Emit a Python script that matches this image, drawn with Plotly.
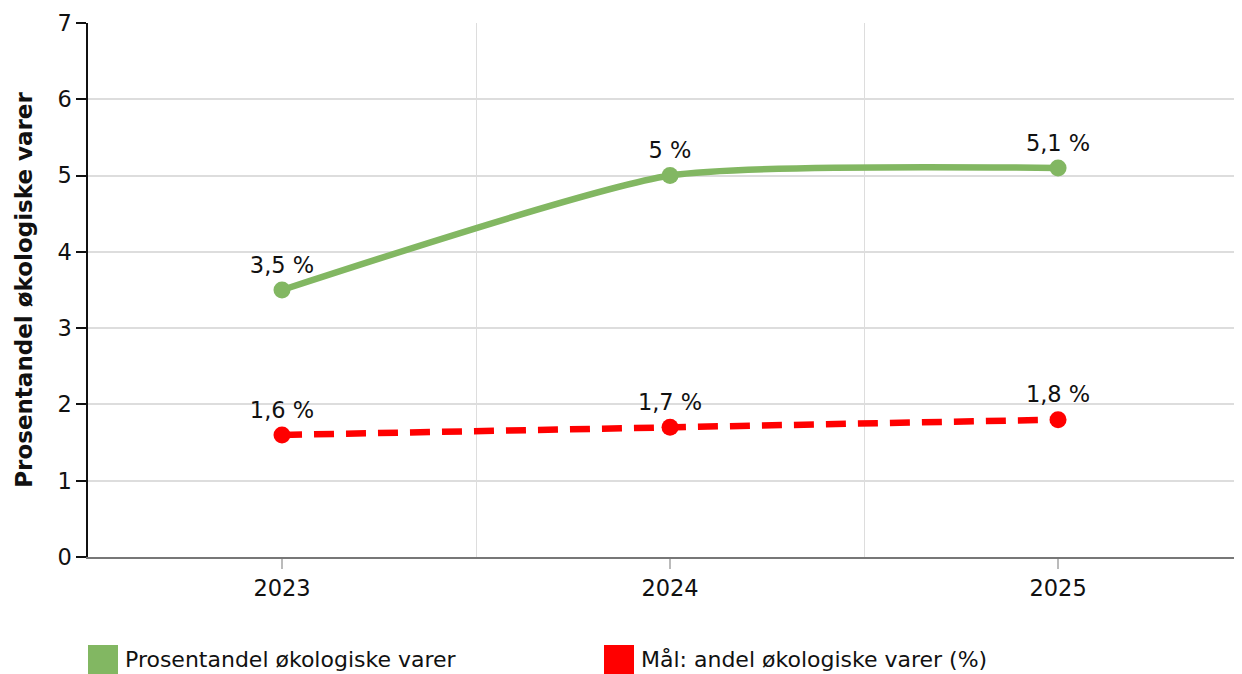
import plotly.graph_objects as go

years = ["2023", "2024", "2025"]
andel = [3.5, 5.0, 5.1]
maal = [1.6, 1.7, 1.8]
andel_labels = ["3,5 %", "5 %", "5,1 %"]
maal_labels = ["1,6 %", "1,7 %", "1,8 %"]
series_names = ["Prosentandel økologiske varer", "Mål: andel økologiske varer (%)"]
colors = ["#82b762", "#ff0000"]
y_title = "Prosentandel økologiske varer"
y_ticks = [0, 1, 2, 3, 4, 5, 6, 7]

FONT = "DejaVu Sans"
xs = list(range(len(years)))

# page offset of the figure (body margin) is about 8px
L, T, B, R = 80, 15, 125, 8
PW = 1242 - L - R
PH = 674 - T - B

fig = go.Figure()
fig.add_trace(go.Scatter(
    x=xs, y=andel, mode="lines+markers+text", name=series_names[0],
    line=dict(color=colors[0], width=6.5, shape="spline", smoothing=0.55),
    marker=dict(size=17, color=colors[0]),
    text=andel_labels, textposition="top center",
    textfont=dict(family=FONT, size=22.5, color="#111"),
    showlegend=False, cliponaxis=False,
))
fig.add_trace(go.Scatter(
    x=xs, y=maal, mode="lines+markers+text", name=series_names[1],
    line=dict(color=colors[1], width=6.5, dash="20px,12px"),
    marker=dict(size=17, color=colors[1]),
    text=maal_labels, textposition="top center",
    textfont=dict(family=FONT, size=22.5, color="#111"),
    showlegend=False, cliponaxis=False,
))

fig.update_layout(
    width=1242, height=674,
    margin=dict(l=L, r=R, t=T, b=B, autoexpand=False),
    paper_bgcolor="white", plot_bgcolor="white",
    font=dict(family=FONT, size=22, color="#111"),
    showlegend=False,
)
fig.update_xaxes(
    range=[-0.5, 2.474], tickvals=xs, ticktext=years, automargin=False,
    showgrid=False, showline=True, linecolor="#777", linewidth=1.5,
    ticks="outside", ticklen=10, tickcolor="#bbb", tickwidth=1.5,
    tickfont=dict(family=FONT, size=22.5), zeroline=False,
    minor=dict(tickvals=[0.5, 1.5], showgrid=True, gridcolor="#dddddd", gridwidth=1, ticklen=0),
)
fig.update_yaxes(
    range=[0, 7], tickvals=y_ticks, automargin=False,
    showgrid=True, gridcolor="#dddddd", gridwidth=1.5,
    showline=True, linecolor="#111", linewidth=1.5,
    ticks="outside", ticklen=10, tickcolor="#111", tickwidth=1.5,
    tickfont=dict(family=FONT, size=22.5), zeroline=False,
    title=dict(text="<b>" + y_title + "</b>", font=dict(family=FONT, size=23), standoff=18),
)

# legend drawn as squares + labels (page pixel positions)
leg_x = [88, 604]
for i, name in enumerate(series_names):
    fig.add_shape(type="rect", xref="paper", yref="paper",
                  x0=(leg_x[i] - 8 - L) / PW, x1=(leg_x[i] - 8 - L + 30) / PW,
                  y0=-(645 - 8 - T - PH) / PH, y1=-(676 - 8 - T - PH) / PH,
                  fillcolor=colors[i], line=dict(width=0))
    fig.add_annotation(xref="paper", yref="paper",
                       x=(leg_x[i] - 8 - L + 35) / PW, y=-(659 - 8 - T - PH) / PH,
                       xanchor="left", yanchor="middle", showarrow=False,
                       text=name, font=dict(family=FONT, size=22, color="#111"))

fig.write_html("out.html")
